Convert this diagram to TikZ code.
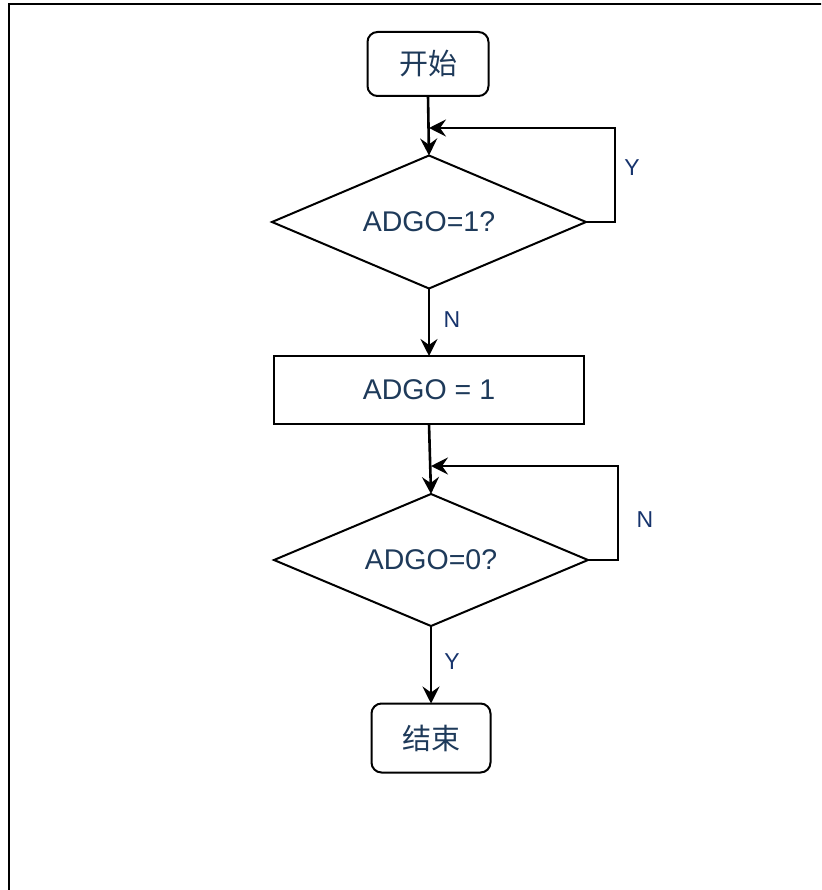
\documentclass[tikz,border=0pt]{standalone}
\usepackage{fontspec}
\setmainfont{Liberation Sans}
\newfontfamily\cjk{Noto Sans CJK SC}
\usetikzlibrary{shapes.geometric,arrows.meta}
\definecolor{nodetext}{HTML}{1E3A5A}
\definecolor{labeltext}{HTML}{16336C}
\tikzset{
  x=1pt, y=-1pt,
  every node/.style={inner sep=0pt, outer sep=0pt, text=nodetext},
  terminal/.style={draw, line width=2pt, rounded corners=10pt, font=\cjk\fontsize{29}{32}\selectfont},
  process/.style={draw, line width=2pt, font=\fontsize{28.5}{32}\selectfont},
  decision/.style={draw, shape=diamond, line width=2pt, aspect=2.36, font=\fontsize{28.5}{32}\selectfont},
  flow/.style={line width=2.6pt, -{Stealth[length=17pt,width=17pt,inset=6pt]}},
  branch/.style={text=labeltext, font=\fontsize{23}{26}\selectfont}
}
\begin{document}
\begin{tikzpicture}
\useasboundingbox (0,0) rectangle (821,890);
% frame around the chart, running off the right and lower edges
\begin{scope}
\clip (0,0) rectangle (821,890);
\draw[line width=2.7pt] (9,4) rectangle (840,910);
\end{scope}

% nodes
\node[terminal, minimum width=121pt, minimum height=64pt] (start) at (428,64) {开始};
\node[decision, minimum width=314pt, minimum height=133pt] (d1) at (429,222) {ADGO=1?};
\node[process, minimum width=310pt, minimum height=68pt] (set) at (429,390) {ADGO = 1};
\node[decision, minimum width=314pt, minimum height=132pt] (d2) at (431,560) {ADGO=0?};
\node[terminal, minimum width=119pt, minimum height=69pt] (stop) at (431,738) {结束};

% loop-back join points
\coordinate (j1) at (d1.north |- 0,128);
\coordinate (j2) at (d2.north |- 0,466);
\coordinate (r1) at (615,0);
\coordinate (r2) at (618,0);

% connectors
\draw[flow] (start.south) -- (d1.north);
\draw[flow] (d1.east) -- (r1 |- d1.east) -- (r1 |- j1) -- (j1);
\draw[flow] (d1.south) -- (set.north);
\draw[flow] (set.south) -- (d2.north);
\draw[flow] (d2.east) -- (r2 |- d2.east) -- (r2 |- j2) -- (j2);
\draw[flow] (d2.south) -- (stop.north);

% branch labels
\node[branch] (y1) at (632,168) {Y};
\node[branch] (n1) at (452,320) {N};
\node[branch] (n2) at (645,520) {N};
\node[branch] (y2) at (452,662) {Y};
\end{tikzpicture}
\end{document}
